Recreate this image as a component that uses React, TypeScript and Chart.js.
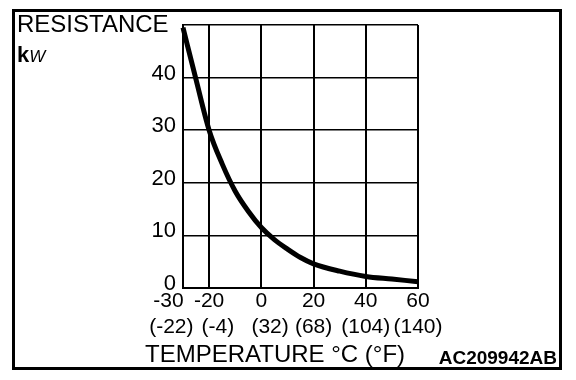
import React, { useEffect, useRef } from "react";
import { Chart, registerables } from "chart.js";

Chart.register(...registerables);

const temperaturesC = [-30, -25, -20, -15, -10, -5, 0, 5, 10, 15, 20, 30, 40, 50, 60];
const resistanceK = [49.5, 39.6, 30, 23.6, 18.4, 14.6, 11.5, 9.2, 7.4, 5.8, 4.6, 3.2, 2.2, 1.7, 1.2];

const xTickValues = [-30, -20, 0, 20, 40, 60];
const xTickLabelsC = ["-30     ", "-20", "0", "20", "40", "60"];
const xTickLabelsF = ["(-22)    ", "   (-4)", "   (32)", "(68)", "(104)", "(140)"];
const yTickValues = [0, 10, 20, 30, 40, 50];
const yTickLabels = ["0", "10", "20", "30", "40", ""];

const yTitle = "RESISTANCE";
const yUnitMain = "k";
const yUnitSub = "W";
const xTitle = "TEMPERATURE °C (°F)";
const figureCode = "AC209942AB";

const FONT = "'Liberation Sans', Arial, Helvetica, sans-serif";

const textPlugin = {
  id: "textPlugin",
  afterDraw(chart: any) {
    const ctx = chart.ctx;
    ctx.save();
    ctx.fillStyle = "#000";
    ctx.textAlign = "left";
    ctx.textBaseline = "alphabetic";
    ctx.font = `24px ${FONT}`;
    ctx.fillText(yTitle, 17, 32);
    ctx.font = `bold 22px ${FONT}`;
    ctx.fillText(yUnitMain, 17, 62);
    const kw = ctx.measureText(yUnitMain).width;
    ctx.font = `italic 17px ${FONT}`;
    ctx.fillText(yUnitSub, 17 + kw, 62);
    ctx.font = `24px ${FONT}`;
    ctx.fillText(xTitle, 145, 362);
    ctx.font = `bold 19px ${FONT}`;
    ctx.textAlign = "right";
    ctx.fillText(figureCode, 557, 364);
    ctx.restore();
  },
};

export default function App() {
  const canvasRef = useRef<HTMLCanvasElement | null>(null);

  useEffect(() => {
    if (!canvasRef.current) return;
    const chart = new Chart(canvasRef.current, {
      type: "line",
      data: {
        datasets: [
          {
            data: temperaturesC.map((t, i) => ({ x: t, y: resistanceK[i] })),
            borderColor: "#000",
            borderWidth: 5,
            pointRadius: 0,
            cubicInterpolationMode: "monotone",
            fill: false,
            clip: false as any,
          },
        ],
      },
      options: {
        animation: false,
        responsive: false,
        layout: { padding: { left: 0, top: 25, right: 158, bottom: 0 } },
        plugins: { legend: { display: false }, tooltip: { enabled: false }, title: { display: false } },
        scales: {
          x: {
            type: "linear",
            min: -30,
            max: 60,
            afterBuildTicks: (scale: any) => {
              scale.ticks = xTickValues.map((v) => ({ value: v }));
            },
            afterFit: (scale: any) => {
              scale.height = 92;
              scale.paddingLeft = 0;
              scale.paddingRight = 0;
            },
            ticks: {
              autoSkip: false,
              maxRotation: 0,
              padding: 1,
              color: "#000",
              font: { family: FONT, size: 21, lineHeight: 1.2 },
              callback: (value: any) => {
                const i = xTickValues.indexOf(Number(value));
                return i >= 0 ? [xTickLabelsC[i], xTickLabelsF[i]] : "";
              },
            },
            grid: { color: "#000", lineWidth: 2, drawTicks: false },
            border: { display: true, color: "#000", width: 2 },
          },
          y: {
            type: "linear",
            min: 0,
            max: 50,
            afterBuildTicks: (scale: any) => {
              scale.ticks = yTickValues.map((v) => ({ value: v }));
            },
            afterFit: (scale: any) => {
              scale.width = 183;
              scale.paddingTop = 0;
              scale.paddingBottom = 0;
            },
            ticks: {
              padding: 7,
              labelOffset: -4,
              color: "#000",
              font: { family: FONT, size: 22 },
              callback: (value: any) => {
                const i = yTickValues.indexOf(Number(value));
                return i >= 0 ? yTickLabels[i] : "";
              },
            },
            grid: { color: "#000", lineWidth: 1.5, drawTicks: false },
            border: { display: true, color: "#000", width: 2 },
          },
        },
      },
      plugins: [textPlugin],
    } as any);
    return () => chart.destroy();
  }, []);

  return (
    <div style={{ position: "absolute", left: 0, top: 0, width: 576, height: 380, background: "#fff" }}>
      <canvas
        ref={canvasRef}
        width={576}
        height={380}
        style={{ position: "absolute", left: 0, top: 0, width: 576, height: 380 }}
      />
      <div
        style={{
          position: "absolute",
          left: 12,
          top: 9,
          width: 550,
          height: 361,
          boxSizing: "border-box",
          border: "3px solid #000",
          pointerEvents: "none",
        }}
      />
    </div>
  );
}
